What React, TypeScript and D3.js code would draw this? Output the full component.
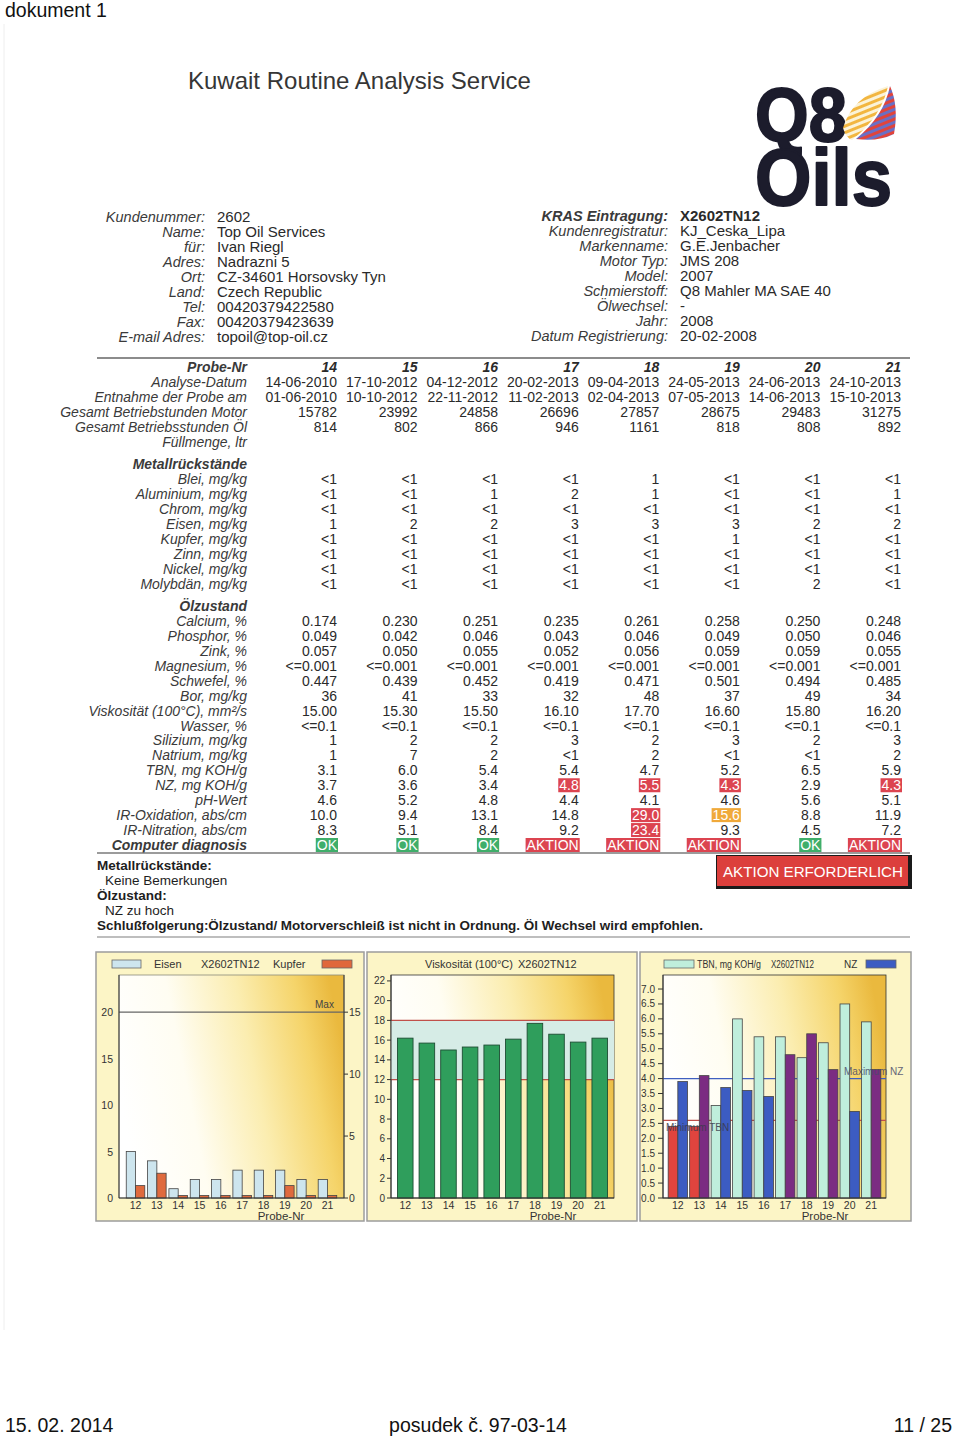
import React from "react";
import * as d3 from "d3";

// ---------------- DATA ----------------
const headerLeftLabels = ["Kundenummer:", "Name:", "für:", "Adres:", "Ort:", "Land:", "Tel:", "Fax:", "E-mail Adres:"];
const headerLeftValues = ["2602", "Top Oil Services", "Ivan Riegl", "Nadrazni 5", "CZ-34601 Horsovsky Tyn", "Czech Republic", "00420379422580", "00420379423639", "topoil@top-oil.cz"];
const headerRightLabels = ["KRAS Eintragung:", "Kundenregistratur:", "Markenname:", "Motor Typ:", "Model:", "Schmierstoff:", "Ölwechsel:", "Jahr:", "Datum Registrierung:"];
const headerRightValues = ["X2602TN12", "KJ_Ceska_Lipa", "G.E.Jenbacher", "JMS 208", "2007", "Q8 Mahler MA SAE 40", "-", "2008", "20-02-2008"];

const tableCols = ["14", "15", "16", "17", "18", "19", "20", "21"];
const analyseDatum = ["14-06-2010", "17-10-2012", "04-12-2012", "20-02-2013", "09-04-2013", "24-05-2013", "24-06-2013", "24-10-2013"];
const entnahmeDatum = ["01-06-2010", "10-10-2012", "22-11-2012", "11-02-2013", "02-04-2013", "07-05-2013", "14-06-2013", "15-10-2013"];
const betriebMotor = ["15782", "23992", "24858", "26696", "27857", "28675", "29483", "31275"];
const betriebOel = ["814", "802", "866", "946", "1161", "818", "808", "892"];
const fuellmenge = ["", "", "", "", "", "", "", ""];
const blei = ["<1", "<1", "<1", "<1", "1", "<1", "<1", "<1"];
const aluminium = ["<1", "<1", "1", "2", "1", "<1", "<1", "1"];
const chrom = ["<1", "<1", "<1", "<1", "<1", "<1", "<1", "<1"];
const eisen = ["1", "2", "2", "3", "3", "3", "2", "2"];
const kupfer = ["<1", "<1", "<1", "<1", "<1", "1", "<1", "<1"];
const zinn = ["<1", "<1", "<1", "<1", "<1", "<1", "<1", "<1"];
const nickel = ["<1", "<1", "<1", "<1", "<1", "<1", "<1", "<1"];
const molybdaen = ["<1", "<1", "<1", "<1", "<1", "<1", "2", "<1"];
const calcium = ["0.174", "0.230", "0.251", "0.235", "0.261", "0.258", "0.250", "0.248"];
const phosphor = ["0.049", "0.042", "0.046", "0.043", "0.046", "0.049", "0.050", "0.046"];
const zink = ["0.057", "0.050", "0.055", "0.052", "0.056", "0.059", "0.059", "0.055"];
const magnesium = ["<=0.001", "<=0.001", "<=0.001", "<=0.001", "<=0.001", "<=0.001", "<=0.001", "<=0.001"];
const schwefel = ["0.447", "0.439", "0.452", "0.419", "0.471", "0.501", "0.494", "0.485"];
const bor = ["36", "41", "33", "32", "48", "37", "49", "34"];
const viskositaet = ["15.00", "15.30", "15.50", "16.10", "17.70", "16.60", "15.80", "16.20"];
const wasser = ["<=0.1", "<=0.1", "<=0.1", "<=0.1", "<=0.1", "<=0.1", "<=0.1", "<=0.1"];
const silizium = ["1", "2", "2", "3", "2", "3", "2", "3"];
const natrium = ["1", "7", "2", "<1", "2", "<1", "<1", "2"];
const tbnVals = ["3.1", "6.0", "5.4", "5.4", "4.7", "5.2", "6.5", "5.9"];
const nzVals = ["3.7", "3.6", "3.4", "4.8", "5.5", "4.3", "2.9", "4.3"];
const phWert = ["4.6", "5.2", "4.8", "4.4", "4.1", "4.6", "5.6", "5.1"];
const irOxidation = ["10.0", "9.4", "13.1", "14.8", "29.0", "15.6", "8.8", "11.9"];
const irNitration = ["8.3", "5.1", "8.4", "9.2", "23.4", "9.3", "4.5", "7.2"];
const diagnosis = ["OK", "OK", "OK", "AKTION", "AKTION", "AKTION", "OK", "AKTION"];
// status flags: 0 none, 1 warning, 2 alarm
const nzFlag = [0, 0, 0, 2, 2, 2, 0, 2];
const irOxFlag = [0, 0, 0, 0, 2, 1, 0, 0];
const irNitrFlag = [0, 0, 0, 0, 2, 0, 0, 0];

const chartSamples = ["12", "13", "14", "15", "16", "17", "18", "19", "20", "21"];
const chartEisen = [5, 4, 1, 2, 2, 3, 3, 3, 2, 2];
const chartKupfer = [1, 2, 0.2, 0.2, 0.2, 0.2, 0.2, 1, 0.2, 0.2];
const chartVisk = [16.2, 15.7, 15.0, 15.3, 15.5, 16.1, 17.7, 16.6, 15.8, 16.2];
const chartTbn = [2.4, 2.4, 3.1, 6.0, 5.4, 5.4, 4.7, 5.2, 6.5, 5.9];
const chartNz = [3.9, 4.1, 3.7, 3.6, 3.4, 4.8, 5.5, 4.3, 2.9, 4.3];
const eisenMax = 20;
const viskMin = 12;
const viskMax = 18;
const tbnMin = 2.6;
const nzMax = 4.0;
const eisenTicks = [0, 5, 10, 15, 20];
const kupferTicks = [0, 5, 10, 15];
const viskTicks = [0, 2, 4, 6, 8, 10, 12, 14, 16, 18, 20, 22];
const tbnTicks = [0, 0.5, 1, 1.5, 2, 2.5, 3, 3.5, 4, 4.5, 5, 5.5, 6, 6.5, 7];

// ---------------- HELPERS ----------------
const FONT = "'Liberation Sans', Arial, Helvetica, sans-serif";
let _ctx: CanvasRenderingContext2D | null = null;
function textW(s: string, size: number, weight = "normal") {
  if (!_ctx) _ctx = document.createElement("canvas").getContext("2d");
  if (!_ctx) return s.length * size * 0.55;
  _ctx.font = `${weight} ${size}px "Liberation Sans"`;
  return _ctx.measureText(s).width;
}

const C = {
  text: "#2a2a2a",
  label: "#3a3a3a",
  red: "#dc4450",
  orange: "#f0a93a",
  green: "#3fae6a",
  panel: "#fcf5c6",
  panelStroke: "#9c9c9c",
};

type Row = { label: string; values?: string[]; slot: number; bold?: boolean; flags?: number[]; diag?: boolean };
const tableRows: Row[] = [
  { label: "Probe-Nr", values: tableCols, slot: 0, bold: true },
  { label: "Analyse-Datum", values: analyseDatum, slot: 1 },
  { label: "Entnahme der Probe am", values: entnahmeDatum, slot: 2 },
  { label: "Gesamt Betriebstunden Motor", values: betriebMotor, slot: 3 },
  { label: "Gesamt Betriebsstunden Öl", values: betriebOel, slot: 4 },
  { label: "Füllmenge, ltr", values: fuellmenge, slot: 5 },
  { label: "Metallrückstände", slot: 6.5, bold: true },
  { label: "Blei, mg/kg", values: blei, slot: 7.5 },
  { label: "Aluminium, mg/kg", values: aluminium, slot: 8.5 },
  { label: "Chrom, mg/kg", values: chrom, slot: 9.5 },
  { label: "Eisen, mg/kg", values: eisen, slot: 10.5 },
  { label: "Kupfer, mg/kg", values: kupfer, slot: 11.5 },
  { label: "Zinn, mg/kg", values: zinn, slot: 12.5 },
  { label: "Nickel, mg/kg", values: nickel, slot: 13.5 },
  { label: "Molybdän, mg/kg", values: molybdaen, slot: 14.5 },
  { label: "Ölzustand", slot: 16, bold: true },
  { label: "Calcium, %", values: calcium, slot: 17 },
  { label: "Phosphor, %", values: phosphor, slot: 18 },
  { label: "Zink, %", values: zink, slot: 19 },
  { label: "Magnesium, %", values: magnesium, slot: 20 },
  { label: "Schwefel, %", values: schwefel, slot: 21 },
  { label: "Bor, mg/kg", values: bor, slot: 22 },
  { label: "Viskosität (100°C), mm²/s", values: viskositaet, slot: 23 },
  { label: "Wasser, %", values: wasser, slot: 24 },
  { label: "Silizium, mg/kg", values: silizium, slot: 25 },
  { label: "Natrium, mg/kg", values: natrium, slot: 26 },
  { label: "TBN, mg KOH/g", values: tbnVals, slot: 27 },
  { label: "NZ, mg KOH/g", values: nzVals, slot: 28, flags: nzFlag },
  { label: "pH-Wert", values: phWert, slot: 29 },
  { label: "IR-Oxidation, abs/cm", values: irOxidation, slot: 30, flags: irOxFlag },
  { label: "IR-Nitration, abs/cm", values: irNitration, slot: 31, flags: irNitrFlag },
  { label: "Computer diagnosis", values: diagnosis, slot: 32, bold: true, diag: true },
];

function Header() {
  const yRow = d3.scaleLinear().domain([0, 8]).range([222, 342]);
  return (
    <g fontFamily={FONT}>
      <text x={188} y={89} fontSize={24} fill="#363636">Kuwait Routine Analysis Service</text>
      {headerLeftLabels.map((l, i) => (
        <text key={"ll" + i} x={205} y={yRow(i)} fontSize={14.5} fontStyle="italic" textAnchor="end" fill={C.label}>{l}</text>
      ))}
      {headerLeftValues.map((v, i) => (
        <text key={"lv" + i} x={217} y={yRow(i)} fontSize={15} fill={C.text}>{v}</text>
      ))}
      {headerRightLabels.map((l, i) => (
        <text key={"rl" + i} x={668} y={yRow(i) - 1} fontSize={14.5} fontStyle="italic" fontWeight={i === 0 ? "bold" : "normal"} textAnchor="end" fill={C.label}>{l}</text>
      ))}
      {headerRightValues.map((v, i) => (
        <text key={"rv" + i} x={680} y={yRow(i) - 1} fontSize={15} fontWeight={i === 0 ? "bold" : "normal"} fill={C.text}>{v}</text>
      ))}
    </g>
  );
}

function Logo() {
  return (
    <g fontFamily={FONT}>
      <defs>
        <pattern id="stripeA" width="8" height="6" patternUnits="userSpaceOnUse" patternTransform="rotate(-22)">
          <rect width="8" height="6" fill="#fbf3d8" />
          <rect width="8" height="3" fill="#f2b640" />
        </pattern>
        <pattern id="stripeB" width="8" height="6" patternUnits="userSpaceOnUse" patternTransform="rotate(-22)">
          <rect width="8" height="6" fill="#6a6fc4" />
          <rect width="8" height="3" fill="#e0443c" />
        </pattern>
      </defs>
      <text fontWeight="bold" fill="#1c1c2c" stroke="#1c1c2c" strokeWidth={2} strokeLinejoin="round">
        <tspan x={755} y={141} fontSize={76} textLength={92} lengthAdjust="spacingAndGlyphs">Q8</tspan>
        <tspan x={755} y={205} fontSize={80} textLength={137} lengthAdjust="spacingAndGlyphs">Oils</tspan>
      </text>
      <path d="M843,128 Q852,97 888,86 Q882,116 852,140 Q846,138 843,128 Z" fill="url(#stripeA)" />
      <path d="M856,139 Q884,116 890,86 Q899,106 894,134 Q878,142 856,139 Z" fill="url(#stripeB)" />
    </g>
  );
}

function Table() {
  const yRow = d3.scaleLinear().domain([0, 32]).range([367, 845]);
  const xCol = d3.scaleLinear().domain([0, 7]).range([337, 901]);
  const FS = 14;
  const els: React.ReactNode[] = [];
  tableRows.forEach((r, ri) => {
    const yc = yRow(r.slot);
    els.push(
      <text key={"lab" + ri} x={247} y={yc + 5} fontSize={FS} fontStyle="italic" fontWeight={r.bold ? "bold" : "normal"} textAnchor="end" fill={C.label}>{r.label}</text>
    );
    (r.values || []).forEach((v, ci) => {
      const xr = xCol(ci);
      let bg: string | null = null;
      if (r.flags && r.flags[ci] === 2) bg = C.red;
      if (r.flags && r.flags[ci] === 1) bg = C.orange;
      if (r.diag) bg = v === "OK" ? C.green : C.red;
      if (bg) {
        const w = textW(v, FS) + 2;
        els.push(<rect key={"bg" + ri + "_" + ci} x={xr - w + 1} y={yc - 7} width={w} height={14} fill={bg} />);
      }
      els.push(
        <text key={"v" + ri + "_" + ci} x={xr} y={yc + 5} fontSize={FS} textAnchor="end"
          fontStyle={ri === 0 ? "italic" : "normal"} fontWeight={ri === 0 ? "bold" : "normal"}
          fill={bg ? "#ffffff" : C.text}>{v}</text>
      );
    });
  });
  return <g fontFamily={FONT}>{els}</g>;
}

function Summary() {
  return (
    <g fontFamily={FONT} fill="#1e1e1e">
      <text x={97} y={870} fontSize={13.5} fontWeight="bold">Metallrückstände:</text>
      <text x={105} y={885} fontSize={13.5}>Keine Bemerkungen</text>
      <text x={97} y={900} fontSize={13.5} fontWeight="bold">Ölzustand:</text>
      <text x={105} y={915} fontSize={13.5}>NZ zu hoch</text>
      <text x={97} y={930} fontSize={13.5} fontWeight="bold" textLength={606} lengthAdjust="spacingAndGlyphs">Schlußfolgerung:Ölzustand/ Motorverschleiß ist nicht in Ordnung. Öl Wechsel wird empfohlen.</text>
      <rect x={716} y={855} width={196} height={34} fill="#1a1a1a" />
      <rect x={717} y={856} width={191} height={30} fill="#dc3f3c" />
      <text x={723} y={877} fontSize={14.5} fill="#ffffff" textLength={180} lengthAdjust="spacingAndGlyphs">AKTION ERFORDERLICH</text>
    </g>
  );
}

const PLOT_TOP = 975;
const PLOT_BOTTOM = 1198;

function Panel({ x0, x1 }: { x0: number; x1: number }) {
  return <rect x={x0} y={952} width={x1 - x0} height={269} fill={C.panel} stroke={C.panelStroke} strokeWidth={1.5} />;
}

function XAxis({ x, left }: { x: d3.ScaleBand<string>; left: number }) {
  return (
    <g>
      {x.domain().map((s) => (
        <text key={s} x={(x(s) as number) + x.bandwidth() / 2} y={1209} fontSize={10.5} textAnchor="middle" fill="#333">{s}</text>
      ))}
      <text x={left + 162} y={1219.5} fontSize={11.5} textAnchor="middle" fill="#333">Probe-Nr</text>
    </g>
  );
}

function Chart1() {
  const L = 119, R = 344;
  const x = d3.scaleBand().domain(chartSamples).range([L, R]).paddingInner(0.13).paddingOuter(0.34);
  const sub = d3.scaleBand().domain(["e", "k"]).range([0, x.bandwidth()]);
  const yL = d3.scaleLinear().domain([0, 24]).range([PLOT_BOTTOM, PLOT_TOP]);
  const yR = d3.scaleLinear().domain([0, 18]).range([PLOT_BOTTOM, PLOT_TOP]);
  return (
    <g fontFamily={FONT}>
      <Panel x0={96} x1={364} />
      <rect x={112} y={960} width={29} height={8} fill="#cde5ee" stroke="#666" strokeWidth={0.8} />
      <text x={154} y={968} fontSize={11} fill="#333">Eisen</text>
      <text x={201} y={968} fontSize={11} fill="#333">X2602TN12</text>
      <text x={273} y={968} fontSize={11} fill="#333">Kupfer</text>
      <rect x={322} y={960} width={30} height={8} fill="#e0683c" stroke="#666" strokeWidth={0.8} />
      <rect x={L} y={PLOT_TOP} width={R - L} height={PLOT_BOTTOM - PLOT_TOP} fill="url(#plotGrad)" stroke="#8a8a7a" strokeWidth={0.8} />
      <line x1={L} x2={R} y1={yL(eisenMax)} y2={yL(eisenMax)} stroke="#666" strokeWidth={1.2} />
      <text x={315} y={1008} fontSize={10} fill="#444">Max</text>
      {chartSamples.map((s, i) => (
        <g key={s}>
          <rect x={(x(s) as number) + (sub("e") as number)} y={yL(chartEisen[i])} width={sub.bandwidth()} height={PLOT_BOTTOM - yL(chartEisen[i])} fill="#cde5ee" stroke="#444" strokeWidth={0.8} />
          <rect x={(x(s) as number) + (sub("k") as number)} y={yR(chartKupfer[i])} width={sub.bandwidth()} height={PLOT_BOTTOM - yR(chartKupfer[i])} fill="#df6a3e" stroke="#444" strokeWidth={0.8} />
        </g>
      ))}
      <line x1={L} x2={L} y1={PLOT_TOP} y2={PLOT_BOTTOM} stroke="#333" strokeWidth={1} />
      <line x1={R} x2={R} y1={PLOT_TOP} y2={PLOT_BOTTOM} stroke="#333" strokeWidth={1} />
      <line x1={L} x2={R} y1={PLOT_BOTTOM} y2={PLOT_BOTTOM} stroke="#333" strokeWidth={1} />
      {eisenTicks.map((t) => (
        <text key={t} x={113} y={yL(t) + 4} fontSize={10.5} textAnchor="end" fill="#333">{t}</text>
      ))}
      {kupferTicks.map((t) => (
        <g key={t}>
          <line x1={R} x2={R + 4} y1={yR(t)} y2={yR(t)} stroke="#333" />
          <text x={R + 5} y={yR(t) + 4} fontSize={10.5} fill="#333">{t}</text>
        </g>
      ))}
      <XAxis x={x} left={L} />
    </g>
  );
}

function Chart2() {
  const L = 391, R = 614;
  const x = d3.scaleBand().domain(chartSamples).range([L, R]).paddingInner(0.28).paddingOuter(0.3);
  const y = d3.scaleLinear().domain([0, 22.6]).range([PLOT_BOTTOM, PLOT_TOP]);
  return (
    <g fontFamily={FONT}>
      <Panel x0={367} x1={637} />
      <text x={425} y={968} fontSize={11} fill="#333">Viskosität (100°C)</text>
      <text x={518} y={968} fontSize={11} fill="#333">X2602TN12</text>
      <rect x={L} y={PLOT_TOP} width={R - L} height={PLOT_BOTTOM - PLOT_TOP} fill="url(#plotGrad)" stroke="#333" strokeWidth={0.8} />
      <rect x={L} y={y(viskMax)} width={R - L} height={y(viskMin) - y(viskMax)} fill="#d6ece6" />
      <line x1={L} x2={R} y1={y(viskMax)} y2={y(viskMax)} stroke="#c0504a" strokeWidth={1.2} />
      <line x1={L} x2={R} y1={y(viskMin)} y2={y(viskMin)} stroke="#c0504a" strokeWidth={1.2} />
      {chartSamples.map((s, i) => (
        <rect key={s} x={x(s) as number} y={y(chartVisk[i])} width={x.bandwidth()} height={PLOT_BOTTOM - y(chartVisk[i])} fill="#2f9e5c" stroke="#1d4d33" strokeWidth={0.9} />
      ))}
      <line x1={L} x2={L} y1={PLOT_TOP} y2={PLOT_BOTTOM} stroke="#333" />
      <line x1={L} x2={R} y1={PLOT_BOTTOM} y2={PLOT_BOTTOM} stroke="#333" />
      {viskTicks.map((t) => (
        <g key={t}>
          <line x1={L - 4} x2={L} y1={y(t)} y2={y(t)} stroke="#333" />
          <text x={L - 6} y={y(t) + 3.5} fontSize={10} textAnchor="end" fill="#333">{t}</text>
        </g>
      ))}
      <XAxis x={x} left={L} />
    </g>
  );
}

function Chart3() {
  const L = 663, R = 886;
  const x = d3.scaleBand().domain(chartSamples).range([L, R]).paddingInner(0.1).paddingOuter(0.24);
  const sub = d3.scaleBand().domain(["t", "n"]).range([0, x.bandwidth()]);
  const y = d3.scaleLinear().domain([0, 7.47]).range([PLOT_BOTTOM, PLOT_TOP]);
  const fmt = d3.format(".1f");
  return (
    <g fontFamily={FONT}>
      <Panel x0={640} x1={911} />
      <rect x={664} y={960} width={30} height={8} fill="#bfeedc" stroke="#666" strokeWidth={0.8} />
      <text x={697} y={968} fontSize={10} fill="#333" textLength={64} lengthAdjust="spacingAndGlyphs">TBN, mg KOH/g</text>
      <text x={771} y={968} fontSize={10} fill="#333" textLength={43} lengthAdjust="spacingAndGlyphs">X2602TN12</text>
      <text x={844} y={968} fontSize={10} fill="#333">NZ</text>
      <rect x={866} y={960} width={30} height={8} fill="#3c5cc2" stroke="#666" strokeWidth={0.8} />
      <rect x={L} y={PLOT_TOP} width={R - L} height={PLOT_BOTTOM - PLOT_TOP} fill="url(#plotGrad)" stroke="#333" strokeWidth={0.8} />
      <line x1={L} x2={R} y1={y(nzMax)} y2={y(nzMax)} stroke="#3f5fc0" strokeWidth={1.2} />
      <line x1={L} x2={R} y1={y(tbnMin)} y2={y(tbnMin)} stroke="#c0504a" strokeWidth={1.2} />
      {chartSamples.map((s, i) => (
        <g key={s}>
          <rect x={(x(s) as number) + (sub("t") as number)} y={y(chartTbn[i])} width={sub.bandwidth()} height={PLOT_BOTTOM - y(chartTbn[i])}
            fill={chartTbn[i] < tbnMin ? "#e0443e" : "#bfeedc"} stroke="#444" strokeWidth={0.8} />
          <rect x={(x(s) as number) + (sub("n") as number)} y={y(chartNz[i])} width={sub.bandwidth()} height={PLOT_BOTTOM - y(chartNz[i])}
            fill={chartNz[i] > nzMax ? "#7b2c82" : "#3c5cc2"} stroke="#444" strokeWidth={0.8} />
        </g>
      ))}
      <text x={844} y={1075} fontSize={10} fill="#4a4a6a" opacity={0.85}>Maximum NZ</text>
      <text x={666} y={1131} fontSize={10} fill="#3a3a4a" opacity={0.85}>Minimum TBN</text>
      <line x1={L} x2={L} y1={PLOT_TOP} y2={PLOT_BOTTOM} stroke="#333" />
      <line x1={L} x2={R} y1={PLOT_BOTTOM} y2={PLOT_BOTTOM} stroke="#333" />
      {tbnTicks.map((t) => (
        <g key={t}>
          <line x1={L - 5} x2={L} y1={y(t)} y2={y(t)} stroke="#333" />
          <text x={L - 8} y={y(t) + 3.5} fontSize={10} textAnchor="end" fill="#333">{fmt(t)}</text>
        </g>
      ))}
      <XAxis x={x} left={L} />
    </g>
  );
}

export default function App() {
  return (
    <div style={{ position: "absolute", left: 0, top: 0 }}>
      <svg width={960} height={1439} viewBox="0 0 960 1439" style={{ display: "block", background: "#ffffff" }}>
        <defs>
          <linearGradient id="plotGrad" x1="0" y1="0.55" x2="1" y2="0.35">
            <stop offset="0" stopColor="#ffffff" />
            <stop offset="0.3" stopColor="#fffdf2" />
            <stop offset="0.6" stopColor="#fbedb0" />
            <stop offset="0.85" stopColor="#f5d46a" />
            <stop offset="1" stopColor="#eab93e" />
          </linearGradient>
        </defs>
        <text x={5} y={17} fontFamily={FONT} fontSize={19.5} fill="#111">dokument 1</text>
        <line x1={4} x2={4} y1={24} y2={1330} stroke="#eeeeee" />
        <Header />
        <Logo />
        <line x1={97} x2={910} y1={358} y2={358} stroke="#8c8c8c" strokeWidth={2} />
        <Table />
        <line x1={97} x2={910} y1={853} y2={853} stroke="#7a7a7a" strokeWidth={1.5} />
        <Summary />
        <line x1={97} x2={910} y1={937} y2={937} stroke="#a8a8a8" strokeWidth={1.5} />
        <Chart1 />
        <Chart2 />
        <Chart3 />
        <g fontFamily={FONT} fontSize={19.5} fill="#111">
          <text x={5} y={1432}>15. 02. 2014</text>
          <text x={478} y={1432} textAnchor="middle">posudek č. 97-03-14</text>
          <text x={952} y={1432} textAnchor="end">11 / 25</text>
        </g>
      </svg>
    </div>
  );
}
